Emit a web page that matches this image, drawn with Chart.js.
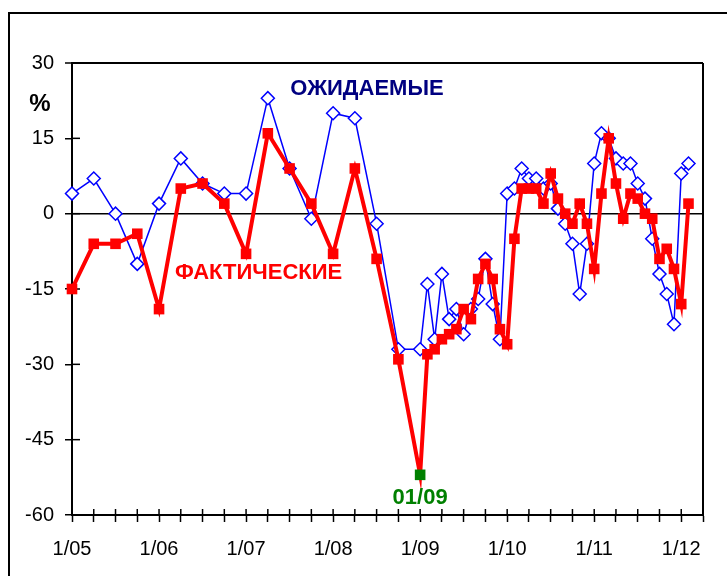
<!DOCTYPE html>
<html><head><meta charset="utf-8">
<script src="https://cdn.jsdelivr.net/npm/chart.js@4"></script>
<style>html,body{margin:0;padding:0;background:#fff;overflow:hidden}#wrap{position:relative;width:727px;height:576px}</style>
</head><body><div id="wrap"><canvas id="c" width="727" height="576"></canvas></div>
<script>
// Dates (MM/YY): quarterly 2005-2008, then monthly from Feb 2009
const dates = ['01/05','04/05','07/05','10/05','01/06','04/06','07/06','10/06','01/07','04/07','07/07','10/07','01/08','04/08','07/08','10/08','01/09',
  '02/09','03/09','04/09','05/09','06/09','07/09','08/09','09/09','10/09','11/09','12/09',
  '01/10','02/10','03/10','04/10','05/10','06/10','07/10','08/10','09/10','10/10','11/10','12/10',
  '01/11','02/11','03/11','04/11','05/11','06/11','07/11','08/11','09/11','10/11','11/11','12/11',
  '01/12','02/12'];
// ОЖИДАЕМЫЕ (expected), %
const expected = [4,7,0,-10,2,11,6,4,4,23,9,-1,20,19,-2,-27,-27,
  -14,-25,-12,-21,-19,-24,-19,-17,-9,-18,-25,
  4,5,9,7,7,5,6,1,-2,-6,-16,-6,
  10,16,15,11,10,10,6,3,-5,-12,-16,-22,
  8,10];
// ФАКТИЧЕСКИЕ (actual), %
const actual = [-15,-6,-6,-4,-19,5,6,2,-8,16,9,2,-8,9,-9,-29,-52,
  -28,-27,-25,-24,-23,-19,-21,-13,-10,-13,-23,
  -26,-5,5,5,5,2,8,3,0,-2,2,-2,
  -11,4,15,6,-1,4,3,0,-1,-9,-7,-11,
  -18,2];
const yearLabels = ['1/05','1/06','1/07','1/08','1/09','1/10','1/11','1/12'];
const highlightDate = '01/09';
const highlightLabel = '01/09';

const toIdx = d => { const p = d.split('/').map(Number); return (p[1] - 5) * 12 + (p[0] - 1); };
const xs = dates.map(toIdx);
const hiIdx = dates.indexOf(highlightDate);
const FONT = 'Liberation Sans, Arial, sans-serif';

const decor = {
  id: 'decor',
  beforeDatasetsDraw(chart) {
    const {ctx, chartArea: a, scales: {x, y}} = chart;
    ctx.save();
    ctx.strokeStyle = '#000';
    ctx.lineWidth = 1.5;
    x.ticks.forEach(t => { const px = x.getPixelForValue(t.value); ctx.beginPath(); ctx.moveTo(px, a.bottom); ctx.lineTo(px, a.bottom - 6); ctx.stroke(); });
    y.ticks.forEach(t => { const py = y.getPixelForValue(t.value); ctx.beginPath(); ctx.moveTo(a.left, py); ctx.lineTo(a.left + 8, py); ctx.stroke(); });
    ctx.lineWidth = 2;
    ctx.beginPath(); ctx.moveTo(a.right, a.top); ctx.lineTo(a.right, a.bottom); ctx.stroke();
    // outer frame
    ctx.beginPath(); ctx.moveTo(9, 576); ctx.lineTo(9, 13); ctx.lineTo(727, 13); ctx.stroke();
    ctx.restore();
  },
  afterDatasetsDraw(chart) {
    const {ctx, scales: {x, y}} = chart;
    ctx.save();
    ctx.textBaseline = 'alphabetic';
    ctx.fillStyle = '#000';
    ctx.font = 'bold 24px ' + FONT;
    ctx.textAlign = 'center';
    ctx.fillText('%', 40, 111);
    ctx.fillStyle = '#000080';
    ctx.font = 'bold 22px ' + FONT;
    ctx.fillText('ОЖИДАЕМЫЕ', 367, 95);
    ctx.fillStyle = '#ff0000';
    ctx.textAlign = 'left';
    ctx.fillText('ФАКТИЧЕСКИЕ', 175, 279);
    ctx.fillStyle = '#008000';
    ctx.textAlign = 'center';
    ctx.fillText(highlightLabel, x.getPixelForValue(xs[hiIdx]), y.getPixelForValue(actual[hiIdx]) + 29);
    ctx.restore();
  }
};

new Chart(document.getElementById('c'), {
  type: 'line',
  data: {
    datasets: [
      {
        label: 'ФАКТИЧЕСКИЕ',
        data: xs.map((v, i) => ({x: v, y: actual[i]})),
        borderColor: '#ff0000', borderWidth: 4, tension: 0,
        pointStyle: 'rect', pointRadius: 7.5, pointBorderWidth: 0,
        pointBackgroundColor: c => c.dataIndex === hiIdx ? '#008000' : '#ff0000',
        clip: false
      },
      {
        label: 'ОЖИДАЕМЫЕ',
        data: xs.map((v, i) => ({x: v, y: expected[i]})),
        borderColor: '#0000ff', borderWidth: 1.5, tension: 0,
        pointStyle: 'rectRot', pointRadius: 6.5, pointBorderWidth: 1.5,
        pointBackgroundColor: '#ffffff', pointBorderColor: '#0000ff',
        clip: false
      }
    ]
  },
  options: {
    responsive: false, animation: false,
    layout: {padding: {left: 0, top: 63, right: 24, bottom: 0}},
    plugins: {legend: {display: false}, tooltip: {enabled: false}},
    scales: {
      x: {
        type: 'linear', min: 0, max: 87,
        ticks: {stepSize: 3, autoSkip: false, maxRotation: 0, minRotation: 0, padding: 15, color: '#000',
          font: {family: FONT, size: 20},
          callback: v => (v % 12 === 0 ? yearLabels[v / 12] : '')},
        grid: {drawOnChartArea: false, tickLength: 7, tickColor: '#000', tickWidth: 1.5},
        border: {color: '#000', width: 2},
        afterFit: s => { s.height = 61; }
      },
      y: {
        min: -60, max: 30,
        ticks: {stepSize: 15, padding: 11, color: '#000', font: {family: FONT, size: 20}},
        grid: {
          color: c => (c.tick && (c.tick.value === 0 || c.tick.value === 30)) ? '#000' : 'rgba(0,0,0,0)',
          lineWidth: c => (c.tick && c.tick.value === 30) ? 2 : 1.5,
          tickLength: 7, tickColor: '#000', tickWidth: 1.5
        },
        border: {color: '#000', width: 2},
        afterFit: s => { s.width = 72; }
      }
    }
  },
  plugins: [decor]
});
</script></body></html>
